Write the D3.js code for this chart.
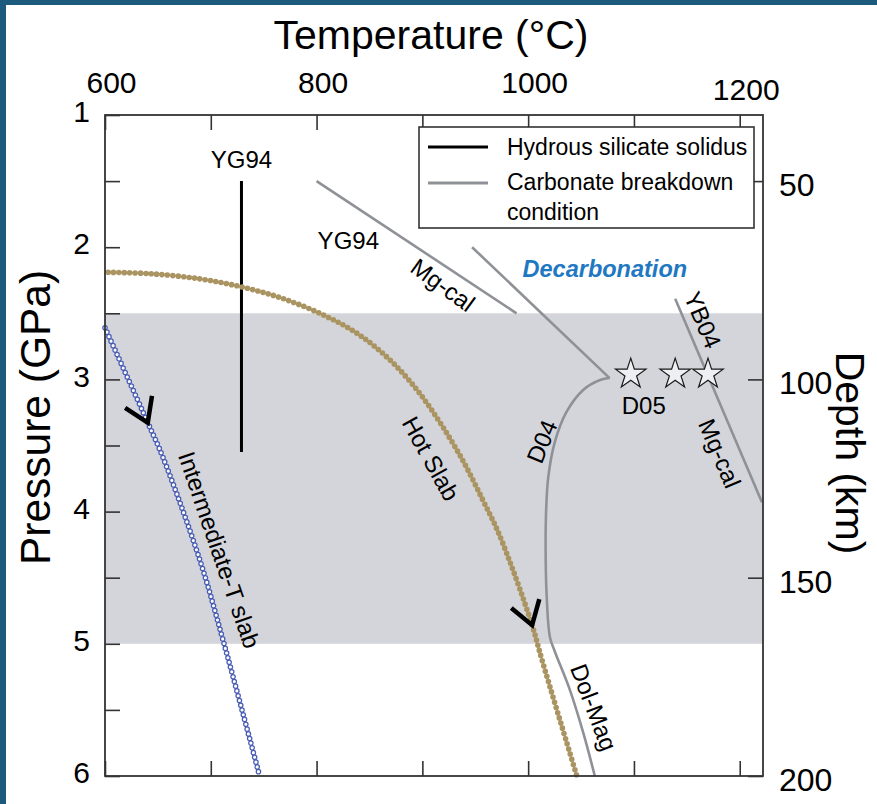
<!DOCTYPE html>
<html>
<head>
<meta charset="utf-8">
<script src="https://cdn.jsdelivr.net/npm/d3@7"></script>
<style>
  html, body { margin: 0; padding: 0; background: #fff; }
  svg { display: block; }
  text { font-family: "Liberation Sans", Arial, Helvetica, sans-serif; fill: #000; }
</style>
</head>
<body>
<svg id="chart" width="877" height="804"></svg>
<script>
// ---- axis ticks ----
const tempTicks = [600, 700, 800, 900, 1000, 1100, 1200];      // °C
const tempLabels = [600, 800, 1000, 1200];
const pressureTicks = [1, 1.5, 2, 2.5, 3, 3.5, 4, 4.5, 5, 5.5, 6]; // GPa
const depthTicks = [50, 100, 150, 200];                          // km

// ---- slab P–T paths ----
const hotSlabT = [603, 642, 690, 729, 765, 803, 838, 869, 895, 917, 938, 957, 973, 1003, 1013, 1046];
const hotSlabP = [2.19, 2.20, 2.24, 2.30, 2.38, 2.50, 2.65, 2.85, 3.08, 3.33, 3.61, 3.91, 4.18, 4.84, 5.12, 6.0];
const interSlabT = [600, 640.6, 654.8, 689.8, 711.5, 745.5];
const interSlabP = [2.61, 3.33, 3.59, 4.37, 4.97, 5.98];

// ---- hydrous silicate solidus (YG94) ----
const solidusT = [729, 729];
const solidusP = [1.5, 3.55];

// ---- carbonate breakdown curves ----
const yg94T = [800, 989];
const yg94P = [1.5, 2.5];
const d04UpperT = [947, 1077];
const d04UpperP = [2.0, 2.99];
const d04T = [1077, 1068, 1052, 1036, 1025, 1019, 1017, 1016.5, 1017.4, 1020.6, 1025.3, 1039.5, 1052, 1063];
const d04P = [2.99, 3.005, 3.08, 3.25, 3.48, 3.74, 3.99, 4.27, 4.62, 4.95, 5.06, 5.35, 5.67, 6.0];
const yb04T = [1139, 1221];
const yb04P = [2.39, 3.93];

// ---- D05 experiments ----
const d05T = [1097, 1139, 1170];
const d05P = [2.96, 2.96, 2.96];

// ---- pressure window shaded in grey ----
const bandP = [2.5, 5.0];

// ---- direction arrows on the slab paths ----
const arrowT = [639.7, 1003.5];
const arrowP = [3.33, 4.86];

// ---- curve annotations ----
const noteText = ["YG94", "YG94", "Mg-cal", "Decarbonation", "YB04", "D05", "D04", "Mg-cal", "Hot Slab", "Intermediate-T slab", "Dol-Mag"];
const noteT = [729, 830, 919.4, 1072.5, 1165, 1109.3, 1013, 1181, 908, 708, 1062];
const noteP = [1.40, 2.01, 2.286, 2.16, 2.55, 3.26, 3.47, 3.56, 3.60, 4.29, 5.48];

const svg = d3.select("#chart");

const x = d3.scaleLinear().domain([600, 1222]).range([105, 763]);
const y = d3.scaleLinear().domain([1, 6]).range([115, 776]);
const depth = d3.scaleLinear().domain([100 / 3, 200]).range([115, 776]);

const zip = (a, b) => a.map((v, i) => [v, b[i]]);
const smooth = d3.line().x(d => x(d[0])).y(d => y(d[1])).curve(d3.curveCatmullRom.alpha(0.5));
const straight = d3.line().x(d => x(d[0])).y(d => y(d[1]));

// frame accent
svg.append("rect").attr("x", 0).attr("y", 0).attr("width", 877).attr("height", 5).attr("fill", "#1c5a7e");
svg.append("rect").attr("x", 0).attr("y", 0).attr("width", 6).attr("height", 804).attr("fill", "#1c5a7e");

// shaded pressure band
svg.append("rect")
  .attr("x", x(600)).attr("width", x(1222) - x(600))
  .attr("y", y(bandP[0])).attr("height", y(bandP[1]) - y(bandP[0]))
  .attr("fill", "#d4d5da");

const gray = "#8e9297";
const grayW = 2.6;

// carbonate breakdown curves
svg.append("path").attr("d", straight(zip(yg94T, yg94P))).attr("fill", "none").attr("stroke", gray).attr("stroke-width", grayW);
svg.append("path").attr("d", straight(zip(d04UpperT, d04UpperP))).attr("fill", "none").attr("stroke", gray).attr("stroke-width", grayW);
svg.append("path").attr("d", smooth(zip(d04T, d04P))).attr("fill", "none").attr("stroke", gray).attr("stroke-width", grayW);
svg.append("path").attr("d", straight(zip(yb04T, yb04P))).attr("fill", "none").attr("stroke", gray).attr("stroke-width", grayW);

// hydrous silicate solidus
svg.append("path").attr("d", straight(zip(solidusT, solidusP))).attr("fill", "none").attr("stroke", "#000").attr("stroke-width", 3);

// intermediate-T slab: chain of open rings
const interD = smooth(zip(interSlabT, interSlabP));
const interPath = svg.append("path").attr("d", interD).attr("fill", "none")
  .attr("stroke", "#4a5db4").attr("stroke-width", 5.6)
  .attr("stroke-linecap", "round").attr("stroke-dasharray", "0 4.9");
svg.append("path").attr("d", interD).attr("fill", "none")
  .attr("stroke", "#ffffff").attr("stroke-width", 3.1)
  .attr("stroke-linecap", "round").attr("stroke-dasharray", "0 4.9");

// hot slab: chain of filled beads
const hotPath = svg.append("path").attr("d", smooth(zip(hotSlabT, hotSlabP))).attr("fill", "none")
  .attr("stroke", "#aa9461").attr("stroke-width", 5.6)
  .attr("stroke-linecap", "round").attr("stroke-dasharray", "0 5.4");

// chevron arrowheads pointing down-path
function chevron(pathNode, t, p) {
  const px = x(t), py = y(p);
  const total = pathNode.getTotalLength();
  let best = 0, bestD = Infinity;
  for (let l = 0; l <= total; l += 0.5) {
    const q = pathNode.getPointAtLength(l);
    const dd = (q.x - px) ** 2 + (q.y - py) ** 2;
    if (dd < bestD) { bestD = dd; best = l; }
  }
  const a = pathNode.getPointAtLength(Math.max(0, best - 4));
  const b = pathNode.getPointAtLength(Math.min(total, best + 4));
  const v = pathNode.getPointAtLength(best);
  const back = Math.atan2(a.y - b.y, a.x - b.x);
  const half = 33 * Math.PI / 180, len = 27;
  const p1 = [v.x + len * Math.cos(back - half), v.y + len * Math.sin(back - half)];
  const p2 = [v.x + len * Math.cos(back + half), v.y + len * Math.sin(back + half)];
  svg.append("path")
    .attr("d", `M${p1[0]},${p1[1]}L${v.x},${v.y}L${p2[0]},${p2[1]}`)
    .attr("fill", "none").attr("stroke", "#000").attr("stroke-width", 4.5)
    .attr("stroke-linejoin", "miter");
}
chevron(interPath.node(), arrowT[0], arrowP[0]);
chevron(hotPath.node(), arrowT[1], arrowP[1]);

// D05 stars
svg.selectAll(".star").data(zip(d05T, d05P)).join("path")
  .attr("class", "star")
  .attr("d", d3.symbol(d3.symbolStar, 287)())
  .attr("transform", d => `translate(${x(d[0])},${y(d[1])})`)
  .attr("fill", "#eeeff2").attr("stroke", "#1a1a1a").attr("stroke-width", 1.2);

// annotations
const noteAngle = { "Mg-cal#2": 36, "YB04#4": 67, "D04#6": -68, "Mg-cal#7": 67, "Hot Slab#8": 61, "Intermediate-T slab#9": 71, "Dol-Mag#10": 69 };
noteText.forEach((txt, i) => {
  const ang = noteAngle[txt + "#" + i] || 0;
  const t = svg.append("text")
    .attr("transform", `translate(${x(noteT[i])},${y(noteP[i])}) rotate(${ang})`)
    .attr("text-anchor", "middle")
    .attr("font-size", 24)
    .text(txt);
  if (ang !== 0) t.attr("dy", "0.35em");
  if (txt === "Decarbonation") {
    t.attr("font-weight", "bold").attr("font-style", "italic").style("fill", "#1f78c2").attr("dy", "0.35em").attr("font-size", 23.5);
  }
});

// axes
const axisColor = "#333";
function styleAxis(g) {
  g.select(".domain").remove();
  g.selectAll(".tick line").attr("stroke", axisColor).attr("stroke-width", 1.6);
  g.selectAll(".tick text").attr("font-size", 30).attr("font-family", "Liberation Sans, Arial, sans-serif").style("fill", "#000");
}

svg.append("g").attr("transform", `translate(0,${y(1)})`)
  .call(d3.axisTop(x).tickValues(tempTicks).tickSize(-15).tickPadding(22)
    .tickFormat(d => tempLabels.includes(d) ? d : ""))
  .call(styleAxis)
  .call(g => g.selectAll(".tick text").attr("dx", 6).attr("dy", d => d === 1200 ? 7 : 0));

svg.append("g").attr("transform", `translate(0,${y(6)})`)
  .call(d3.axisBottom(x).tickValues(tempTicks).tickSize(-15).tickFormat(""))
  .call(styleAxis);

svg.append("g").attr("transform", `translate(${x(600)},0)`)
  .call(d3.axisLeft(y).tickValues(pressureTicks).tickSize(-15).tickPadding(15)
    .tickFormat(d => Number.isInteger(d) ? d : ""))
  .call(styleAxis)
  .call(g => g.selectAll(".tick text").attr("dy", "0.22em"));

svg.append("g").attr("transform", `translate(${x(1222)},0)`)
  .call(d3.axisRight(depth).tickValues(depthTicks).tickSize(-15).tickPadding(16))
  .call(styleAxis)
  .call(g => g.selectAll(".tick text").attr("font-size", 32).attr("dy", "0.45em"));

// plot frame
svg.append("rect")
  .attr("x", x(600)).attr("y", y(1))
  .attr("width", x(1222) - x(600)).attr("height", y(6) - y(1))
  .attr("fill", "none").attr("stroke", axisColor).attr("stroke-width", 1.8);

// axis titles
svg.append("text").attr("x", 431).attr("y", 49).attr("text-anchor", "middle")
  .attr("font-size", 41).text("Temperature (°C)");
svg.append("text").attr("transform", `translate(50,${(y(1) + y(6)) / 2 - 28}) rotate(-90)`)
  .attr("text-anchor", "middle").attr("font-size", 42.5).text("Pressure (GPa)");
svg.append("text").attr("transform", `translate(836,453) rotate(90)`)
  .attr("text-anchor", "middle").attr("font-size", 41).text("Depth (km)");

// legend
const lg = svg.append("g").attr("transform", "translate(419,127)");
lg.append("rect").attr("width", 335).attr("height", 101)
  .attr("fill", "#fff").attr("stroke", axisColor).attr("stroke-width", 1.6);
lg.append("line").attr("x1", 9).attr("x2", 69).attr("y1", 20).attr("y2", 20)
  .attr("stroke", "#000").attr("stroke-width", 3);
lg.append("text").attr("x", 88).attr("y", 28).attr("font-size", 23).text("Hydrous silicate solidus");
lg.append("line").attr("x1", 9).attr("x2", 69).attr("y1", 56).attr("y2", 56)
  .attr("stroke", gray).attr("stroke-width", grayW + 0.6);
lg.append("text").attr("x", 88).attr("y", 63).attr("font-size", 23).text("Carbonate breakdown");
lg.append("text").attr("x", 88).attr("y", 93).attr("font-size", 23).text("condition");
</script>
</body>
</html>
